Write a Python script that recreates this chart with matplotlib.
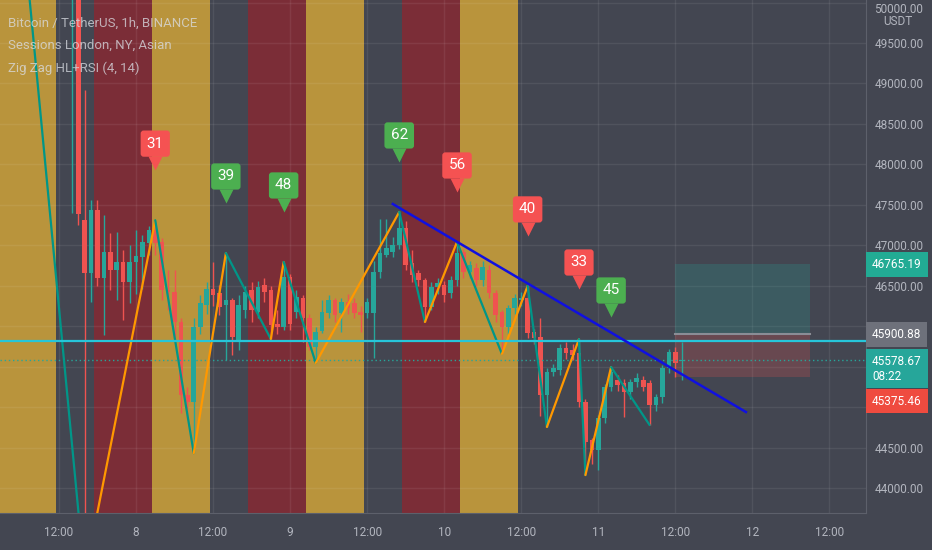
import numpy as np
import matplotlib
matplotlib.use("Agg")
import matplotlib.pyplot as plt
from matplotlib.transforms import blended_transform_factory, offset_copy
from matplotlib.patches import Rectangle

plt.rcParams['font.family'] = ['Roboto', 'DejaVu Sans']

# ---- data (x = hours counted from day 8, 00:00) ----
hours = list(range(-10, 86))
opens = [50700, 50900, 47310, 46660, 47440, 46600, 46920, 46690, 46790, 46550,
         46790, 46860, 47030, 47190, 47040, 46450, 46420, 46050, 45150, 45060,
         45990, 46260, 46460, 46410, 46260, 46320, 45830, 46200, 46450, 46180,
         46510, 46450, 46030, 45990, 46610, 46180, 46350, 46100, 45740, 45940,
         46160, 46320, 46160, 46300, 46290, 46180, 46160, 46160, 46670, 46880,
         46920, 47000, 47210, 46780, 46660, 46570, 46240, 46480, 46510, 46410,
         46570, 46920, 46670, 46720, 46570, 46690, 46410, 46180, 45990, 46230,
         46320, 46350, 45930, 45870, 45150, 45430, 45460, 45730, 45710, 45670,
         45060, 44590, 44470, 44870, 45250, 45340, 45300, 45190, 45310, 45340,
         45300, 45030, 45130, 45480, 45680, 45570]
highs = [51400, 51100, 48920, 47560, 47560, 47370, 47150, 47160, 46940, 47000,
         47190, 47130, 47240, 47310, 47090, 46700, 46690, 46100, 45250, 46100,
         46380, 46550, 46790, 46510, 46900, 46350, 46380, 46500, 46550, 46560,
         46600, 46500, 46200, 46790, 46650, 46450, 46380, 46150, 45990, 46320,
         46380, 46350, 46350, 46400, 46350, 46250, 46350, 46800, 47320, 47320,
         47100, 47410, 47300, 46940, 46700, 46600, 46550, 46600, 46560, 46620,
         47040, 46950, 46800, 46780, 46800, 46750, 46450, 46200, 46260, 46400,
         46420, 46500, 45960, 46100, 45480, 45530, 45780, 45800, 45780, 45840,
         45100, 44620, 44900, 45280, 45500, 45400, 45350, 45350, 45420, 45380,
         45330, 45160, 45520, 45720, 45740, 45800]
lows = [47400, 47250, 42900, 46300, 46500, 45890, 46450, 46320, 46080, 46290,
        46400, 46460, 46880, 46880, 46320, 46200, 45790, 44930, 44850, 44430,
        45900, 46150, 46250, 46140, 45580, 45640, 45700, 46100, 46050, 46100,
        46300, 45840, 45900, 45950, 45950, 46100, 45800, 45710, 45545, 45920,
        46100, 46050, 45930, 46150, 46100, 45930, 46100, 45610, 46600, 46850,
        46850, 46950, 46700, 46550, 46500, 46050, 46200, 46400, 46300, 46350,
        46500, 46600, 46600, 46500, 46500, 46350, 46050, 45660, 45900, 46150,
        46250, 45850, 45780, 44890, 44750, 45380, 45400, 45600, 45580, 45000,
        44160, 44300, 44220, 44800, 45200, 45200, 44880, 45100, 45250, 45200,
        44780, 44950, 45050, 45420, 45370, 45330]
closes = [51200, 47390, 46660, 47440, 46600, 46920, 46690, 46790, 46550, 46790,
          46870, 47040, 47190, 47030, 46450, 46420, 46050, 45150, 45060, 45990,
          46290, 46460, 46390, 46240, 46320, 45870, 46260, 46420, 46200, 46480,
          46420, 46010, 45990, 46610, 46030, 46360, 46100, 45740, 45930, 46180,
          46320, 46140, 46300, 46230, 46160, 46140, 46300, 46670, 46900, 46970,
          47000, 47210, 46760, 46630, 46570, 46240, 46480, 46530, 46390, 46570,
          46900, 46670, 46760, 46570, 46730, 46410, 46140, 45990, 46230, 46350,
          46350, 45920, 45850, 45150, 45430, 45480, 45730, 45670, 45640, 45060,
          44570, 44470, 44870, 45250, 45430, 45270, 45190, 45310, 45360, 45250,
          45030, 45130, 45480, 45680, 45550, 45579]

# zig zag pivots
pivot_hours = [-20, -8, 3, 9, 14, 21, 23, 28, 41, 45, 50, 57, 61, 64, 69, 70, 74, 80]
pivot_prices = [52900, 42900, 47310, 44430, 46904, 45841, 46793, 45545, 47411,
                46052, 47040, 45656, 46497, 44754, 45841, 44160, 45495, 44778]

# RSI labels at the highs
rsi_hours = [3, 14, 23, 41, 50, 61, 69, 74]
rsi_values = ['31', '39', '48', '62', '56', '40', '33', '45']
rsi_up = [False, True, True, True, False, False, False, True]

# session backgrounds
gold_sessions = [(-21.5, -12.5), (2.5, 11.5), (26.5, 35.5), (50.5, 59.5)]
red_sessions = [(-6.5, 2.5), (17.5, 26.5), (41.5, 50.5)]

# drawings
trend_hours = [40, 95]
trend_prices = [47510, 44939]
hline_price = 45815
last_price = 45578.67
entry_price = 45900.88
target_price = 46765.19
stop_price = 45375.46
position_hours = (84, 105)

tick_hours = [-12, 0, 12, 24, 36, 48, 60, 72, 84, 96, 108]
tick_labels = ['12:00', '8', '12:00', '9', '12:00', '10', '12:00', '11', '12:00', '12', '12:00']
price_ticks = np.arange(44000, 50001, 500)
hidden_ticks = [45000, 45500, 46000]   # covered by the price boxes

# ---- colours ----
BG = '#434651'
GOLD = '#B9943C'
WINE = '#7B2D37'
UP = '#26A69A'
DOWN = '#EF5350'
TXT = '#B2B5BE'

fig = plt.figure(figsize=(9.32, 5.5), dpi=100, facecolor=BG)
ax = fig.add_axes([0, 37 / 550, 866 / 932, 513 / 550], facecolor=BG)
ax.set_xlim(-21.18, 113.7)
ax.set_ylim(43691, 50031)

for a, b in gold_sessions:
    ax.axvspan(a, b, color=GOLD, lw=0, zorder=1)
for a, b in red_sessions:
    ax.axvspan(a, b, color=WINE, lw=0, zorder=1)

# candles
o = np.array(opens); c = np.array(closes)
hi = np.array(highs); lo = np.array(lows)
cols = np.where(c >= o, UP, DOWN)
ax.vlines(hours, lo, hi, colors=cols, lw=1, zorder=3)
ax.bar(hours, np.maximum(np.abs(c - o), 12), bottom=np.minimum(o, c), width=0.72,
       color=cols, lw=0, zorder=3.1)

# zig zag
for i in range(len(pivot_hours) - 1):
    up = pivot_prices[i + 1] > pivot_prices[i]
    ax.plot(pivot_hours[i:i + 2], pivot_prices[i:i + 2], color='#FF9800' if up else '#009688',
            lw=1.6, zorder=3.5, solid_capstyle='round')

# horizontal lines
ax.axhline(hline_price, color='#26C6DA', lw=1.6, zorder=4)
ax.axhline(last_price, color='#26A69A', lw=1, ls=(0, (1, 2)), zorder=3.2)

# trend line
ax.plot(trend_hours, trend_prices, color='#1010E0', lw=1.8, zorder=5)

# long position tool
x0, x1 = position_hours
ax.add_patch(Rectangle((x0, entry_price), x1 - x0, target_price - entry_price,
                       fc='#26A69A', alpha=0.22, lw=0, zorder=2.8))
ax.add_patch(Rectangle((x0, stop_price), x1 - x0, entry_price - stop_price,
                       fc='#EF5350', alpha=0.22, lw=0, zorder=2.8))
ax.plot([x0, x1], [entry_price, entry_price], color='#8A8D96', lw=1.5, zorder=2.9)

# RSI labels
tri = offset_copy(ax.transData, fig=fig, x=0, y=4.6, units='points')
piv = dict(zip(pivot_hours, pivot_prices))
for h, txt, up in zip(rsi_hours, rsi_values, rsi_up):
    col = '#4CAF50' if up else '#F55252'
    tip = piv[h] + 625
    ax.plot(h, tip, marker='v', ms=9.5, color=col, mec='none', transform=tri, zorder=6)
    ax.annotate(txt, xy=(h, tip), xytext=(0, 18.7), textcoords='offset points',
                ha='center', va='center', color='white', fontsize=11, zorder=6,
                bbox=dict(boxstyle='round,pad=0.4,rounding_size=0.2', fc=col, ec='none'))

# axes / ticks
ax.set_axisbelow(False)
ax.grid(True, color='white', alpha=0.07, lw=1)
for s in ['top', 'left']:
    ax.spines[s].set_visible(False)
for s in ['bottom', 'right']:
    ax.spines[s].set_color('#5D606B')
ax.yaxis.tick_right()
ax.set_yticks(price_ticks)
ax.set_yticklabels(['' if v in hidden_ticks else f'{v:.2f}' for v in price_ticks])
ax.set_xticks(tick_hours)
ax.set_xticklabels(tick_labels)
ax.tick_params(axis='y', length=0, pad=6, labelsize=8.5, labelcolor=TXT)
ax.tick_params(axis='x', length=0, pad=9, labelsize=8.5, labelcolor=TXT)
# top label sits at the very edge: hang it below its tick so it stays inside
ax.get_yticklabels()[-1].set_verticalalignment('top')

bt = blended_transform_factory(ax.transAxes, ax.transData)
ax.text(1.037, 49760, 'USDT', transform=bt, ha='center', va='center', fontsize=8.5,
        color=TXT, clip_on=False)

def price_label(price, text, color, dy=0):
    ax.annotate(text, xy=(1.0, price), xycoords=bt, xytext=(4.4, dy),
                textcoords='offset points', ha='left', va='center', color='white',
                fontsize=8.5, zorder=10, annotation_clip=False,
                bbox=dict(boxstyle='square,pad=0.5', fc=color, ec='none'))

price_label(target_price, f'{target_price:.2f}', '#22AB94')
price_label(entry_price, f'{entry_price:.2f}', '#6E717B')
price_label(last_price, f'{last_price:.2f}\n08:22', '#26A69A', dy=-6)
price_label(stop_price, f'{stop_price:.2f}', '#EF4B3F', dy=-17.5)

# legend
for i, t in enumerate(['Bitcoin / TetherUS, 1h, BINANCE', 'Sessions London, NY, Asian',
                       'Zig Zag HL+RSI (4, 14)']):
    ax.text(0.009, 1 - (23 + 22.5 * i) / 513, t, transform=ax.transAxes, va='center',
            fontsize=9.5, color='#DADDE3', alpha=0.75, zorder=10)

fig.savefig('out.png', dpi=100, facecolor=BG)
